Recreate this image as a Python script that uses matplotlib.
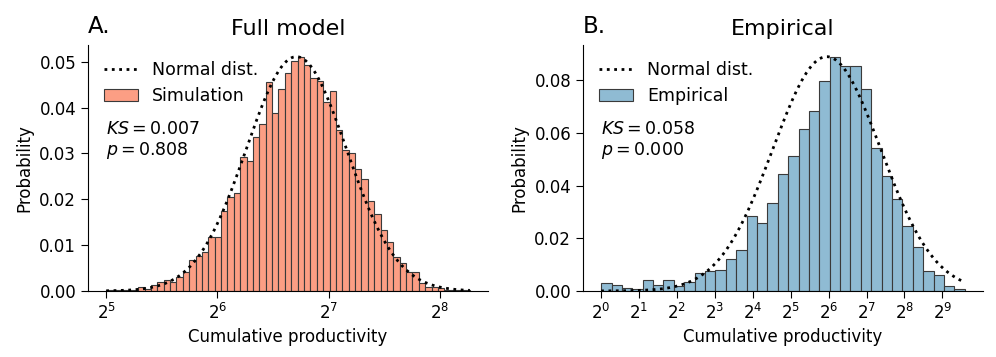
import numpy as np
import matplotlib
matplotlib.use("Agg")
import matplotlib.pyplot as plt

# bin range of each histogram, in log2 units
sim_range = (5.0, 8.27)
emp_range = (0.0, 9.59)

# probability per bin
sim_probs = [0.0001, 0.0001, 0.0001, 0.0002, 0.0003, 0.0008, 0.0005, 0.0013, 0.0020, 0.0023,
             0.0019, 0.0031, 0.0041, 0.0068, 0.0077, 0.0084, 0.0118, 0.0118, 0.0174, 0.0204,
             0.0213, 0.0292, 0.0283, 0.0336, 0.0365, 0.0455, 0.0389, 0.0440, 0.0475, 0.0502,
             0.0511, 0.0493, 0.0464, 0.0458, 0.0412, 0.0437, 0.0352, 0.0307, 0.0301, 0.0266,
             0.0244, 0.0196, 0.0168, 0.0132, 0.0106, 0.0073, 0.0060, 0.0042, 0.0041, 0.0017,
             0.0009, 0.0009, 0.0006, 0.0002, 0.0001, 0.0001, 0.0001]
emp_probs = [0.0029, 0.0023, 0.0013, 0.0006, 0.0042, 0.0023, 0.0042, 0.0018, 0.0035, 0.0067,
             0.0074, 0.0080, 0.0123, 0.0156, 0.0286, 0.0260, 0.0333, 0.0443, 0.0514, 0.0615,
             0.0682, 0.0796, 0.0887, 0.0853, 0.0855, 0.0767, 0.0543, 0.0438, 0.0348, 0.0248,
             0.0166, 0.0075, 0.0060, 0.0018, 0.0008]

# normal fit in log2 units: mean, sd, peak height
sim_norm = (6.71, 0.45, 0.0511)
emp_norm = (5.95, 1.42, 0.089)

# KS statistic and p value
sim_stats = ("0.007", "0.808")
emp_stats = ("0.058", "0.000")

sim_ticks = [5, 6, 7, 8]
emp_ticks = [0, 1, 2, 3, 4, 5, 6, 7, 8, 9]


def plot_panel(ax, rng, probs, norm, stats, ticks, color, label, title, letter):
    edges = np.linspace(rng[0], rng[1], len(probs) + 1)
    left = 2 ** edges[:-1]
    right = 2 ** edges[1:]

    # normal curve over the bin range
    mu, sd, peak = norm
    xs = np.linspace(rng[0], rng[1], 300)
    ys = peak * np.exp(-0.5 * ((xs - mu) / sd) ** 2)
    line, = ax.plot(2 ** xs, ys, ls=":", color="black", lw=2, label="Normal dist.")

    bars = ax.bar(left, probs, width=right - left, align="edge", color=color,
                  edgecolor="#3a3a3a", linewidth=0.8, label=label)

    ax.set_xscale("log", base=2)
    ax.set_xticks([2 ** k for k in ticks])
    ax.set_xticklabels([r"$2^{%d}$" % k for k in ticks])
    ax.minorticks_off()
    ax.set_ylim(bottom=0)

    ax.spines["top"].set_visible(False)
    ax.spines["right"].set_visible(False)
    ax.tick_params(labelsize=12, length=5)
    ax.set_xlabel("Cumulative productivity", fontsize=12)
    ax.set_ylabel("Probability", fontsize=12)
    ax.set_title(title, fontsize=16, pad=7)
    ax.text(0.0, 1.049, letter, transform=ax.transAxes, fontsize=16.5, va="baseline")

    ax.legend(handles=[line, bars], loc="upper left", frameon=False, fontsize=12.5)
    ax.text(0.045, 0.695, r"$KS = %s$" % stats[0] + "\n" + r"$p = %s$" % stats[1],
            transform=ax.transAxes, fontsize=12.5, va="top", linespacing=1.1)


fig = plt.figure(figsize=(9.96, 3.57), dpi=100)
ax_a = fig.add_axes([0.0884, 0.185, 0.4016, 0.689])
ax_b = fig.add_axes([0.5853, 0.185, 0.4016, 0.689])

plot_panel(ax_a, sim_range, sim_probs, sim_norm, sim_stats, sim_ticks,
           "#FC9E84", "Simulation", "Full model", "A.")
plot_panel(ax_b, emp_range, emp_probs, emp_norm, emp_stats, emp_ticks,
           "#8FBBD3", "Empirical", "Empirical", "B.")

fig.savefig("out.png", dpi=100)
